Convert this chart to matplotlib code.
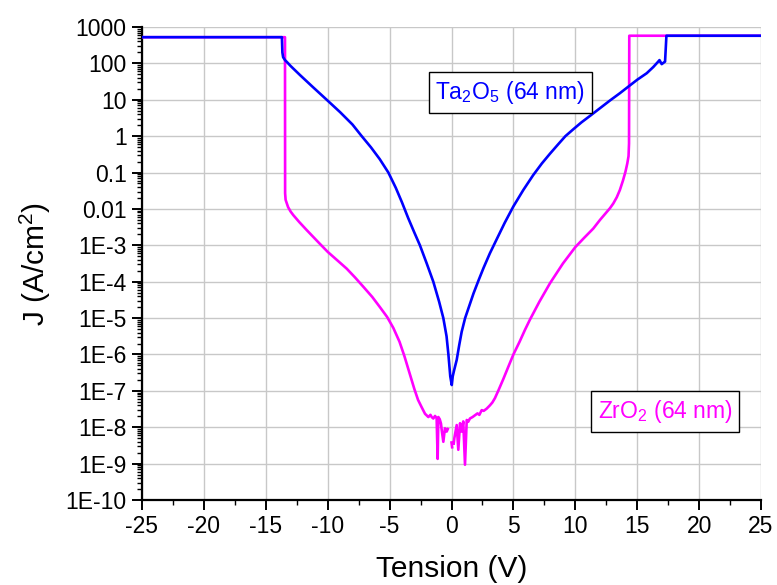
"""
plot.py - J-V curves of Ta2O5 and ZrO2 (64 nm) films, log scale.
"""

import matplotlib
matplotlib.use("Agg")
import matplotlib.pyplot as plt
import numpy as np
from matplotlib.ticker import FixedLocator, FixedFormatter, MultipleLocator, LogLocator, NullFormatter

# ── Data ──────────────────────────────────────────────────────────────────────

ta_v = [-25.0, -13.7, -13.66, -13.6, -13.45, -13.3, -13.0, -12.24, -11.2, -10.08,
        -9.0, -8.0, -7.3, -6.5, -5.8, -5.1, -4.5, -4.0, -3.5, -3.0, -2.55, -2.0,
        -1.47, -1.0, -0.66, -0.4, -0.25, -0.1, 0.02, 0.1, 0.2, 0.42, 0.62, 0.82,
        1.1, 1.4, 1.78, 2.2, 2.59, 3.1, 3.67, 4.3, 5.0, 5.8, 6.6, 7.3, 7.96, 8.6,
        9.2, 9.84, 10.5, 11.2, 12.0, 12.8, 13.6, 14.28, 15.0, 15.77, 16.3, 16.7,
        16.8, 16.98, 17.25, 17.32, 17.36, 25.0]
ta_logj = [2.72, 2.72, 2.30, 2.17, 2.09, 2.04, 1.93, 1.68, 1.35, 1.0,
           0.66, 0.32, 0.02, -0.31, -0.63, -1.0, -1.42, -1.82, -2.25, -2.65, -3.0, -3.5,
           -4.0, -4.55, -5.0, -5.5, -6.0, -6.6, -6.84, -6.6, -6.45, -6.15, -5.75, -5.38,
           -5.0, -4.7, -4.32, -3.95, -3.62, -3.22, -2.82, -2.38, -1.93, -1.48, -1.07, -0.75, -0.48, -0.23,
           0.0, 0.19, 0.38, 0.56, 0.77, 0.98, 1.18, 1.36, 1.55, 1.73, 1.9, 2.05,
           2.09, 1.98, 2.05, 2.5, 2.76, 2.76]

# NaN marks the breaks in the noisy low-current part
zr_v = [-25.0, -13.45, -13.44, -13.4, -13.2, -13.0, -12.78, -12.3, -11.7, -10.8, -10.0,
        -9.2, -8.47, -7.8, -7.12, -6.4, -5.78, -5.2, -4.7, -4.2, -3.8, -3.4, -3.0,
        -2.7, -2.41, -2.14, -1.87, -1.7, -1.6, -1.47, -1.33, -1.2, -1.12, -1.06, -0.95,
        -0.85, -0.79, -0.66, -0.53, -0.39, -0.3, np.nan, 0.0, 0.05, np.nan, 0.18, 0.23,
        0.42, 0.55, 0.69, 0.82, 0.95, 1.09, 1.23, 1.35, 1.49, 1.7, 1.9, 2.1, 2.25,
        2.44, 2.6, 2.84, 3.1, 3.3, 3.51, 3.8, 4.18, 4.6, 5.0, 5.5, 5.94, 6.34, 7.1,
        7.96, 9.0, 10.0, 10.7, 11.45, 12.0, 12.5, 12.8, 13.07, 13.35, 13.6, 13.85,
        14.05, 14.2, 14.3, 14.34, 14.36, 25.0]
zr_logj = [2.72, 2.72, -1.57, -1.75, -1.95, -2.07, -2.17, -2.36, -2.58, -2.9, -3.18,
           -3.42, -3.64, -3.88, -4.14, -4.42, -4.7, -4.97, -5.27, -5.65, -6.05, -6.5, -6.95,
           -7.25, -7.45, -7.63, -7.72, -7.66, -7.72, -7.76, -7.69, -7.75, -8.87, -7.72, -7.78,
           -7.9, -8.08, -8.40, -8.03, -8.12, -8.05, np.nan, -8.42, -8.55, np.nan, -8.45, -8.3,
           -7.94, -8.62, -7.89, -8.12, -7.84, -9.03, -7.80, -7.85, -7.76, -7.72, -7.67, -7.62, -7.66,
           -7.53, -7.55, -7.49, -7.40, -7.32, -7.2, -6.98, -6.68, -6.33, -6.0, -5.65, -5.32, -5.04, -4.55,
           -4.04, -3.5, -3.05, -2.8, -2.54, -2.3, -2.1, -1.98, -1.85, -1.68, -1.48, -1.22,
           -0.98, -0.75, -0.55, -0.2, 2.76, 2.76]

ytick_vals = [1e-10, 1e-9, 1e-8, 1e-7, 1e-6, 1e-5, 1e-4, 1e-3, 1e-2, 1e-1, 1, 10, 100, 1000]
ytick_labels = ["1E-10", "1E-9", "1E-8", "1E-7", "1E-6", "1E-5", "1E-4", "1E-3",
                "0.01", "0.1", "1", "10", "100", "1000"]

# ── Style ─────────────────────────────────────────────────────────────────────

plt.rcParams["font.family"] = ["Liberation Sans", "DejaVu Sans"]
plt.rcParams["mathtext.fontset"] = "custom"
plt.rcParams["mathtext.rm"] = "Liberation Sans"
plt.rcParams["mathtext.it"] = "Liberation Sans:italic"
plt.rcParams["mathtext.default"] = "regular"
plt.rcParams["axes.unicode_minus"] = False

BLUE = "#0000ff"
MAGENTA = "#ff00ff"

fig = plt.figure(figsize=(7.77, 5.85), dpi=100)
ax = fig.add_axes([142 / 777, 1 - 500 / 585, 619 / 777, 473 / 585])

ax.plot(zr_v, 10 ** np.array(zr_logj, dtype=float), color=MAGENTA, lw=1.9, zorder=3)
ax.plot(ta_v, 10 ** np.array(ta_logj, dtype=float), color=BLUE, lw=1.9, zorder=4)

ax.set_yscale("log")
ax.set_xlim(-25, 25)
ax.set_ylim(1e-10, 1000)

ax.xaxis.set_major_locator(MultipleLocator(5))
ax.xaxis.set_minor_locator(MultipleLocator(2.5))
ax.yaxis.set_major_locator(FixedLocator(ytick_vals))
ax.yaxis.set_major_formatter(FixedFormatter(ytick_labels))
ax.yaxis.set_minor_locator(LogLocator(base=10, subs=np.arange(2, 10), numticks=100))
ax.yaxis.set_minor_formatter(NullFormatter())

ax.tick_params(which="major", direction="out", length=7, width=1.4, labelsize=16.5, pad=4)
ax.tick_params(which="minor", direction="out", length=3.5, width=1.0)

ax.grid(True, which="major", color="#c8c8c8", lw=1.0, zorder=0)
ax.set_axisbelow(True)

for side in ("top", "right"):
    ax.spines[side].set_visible(False)
for side in ("left", "bottom"):
    ax.spines[side].set_linewidth(1.6)

ax.set_xlabel("Tension (V)", fontsize=21.5, labelpad=12)
ax.set_ylabel("J (A/cm$^{2}$)", fontsize=21.5, labelpad=9)

box = dict(boxstyle="square,pad=0.3", fc="white", ec="black", lw=1.0)
ax.text(0.595, 0.8615, "Ta$_{2}$O$_{5}$ (64 nm)", transform=ax.transAxes,
        ha="center", va="center", fontsize=16.5, color=BLUE, bbox=box, zorder=5)
ax.text(0.845, 0.187, "ZrO$_{2}$ (64 nm)", transform=ax.transAxes,
        ha="center", va="center", fontsize=16.5, color=MAGENTA, bbox=box, zorder=5)

fig.savefig("out.png", dpi=100)
